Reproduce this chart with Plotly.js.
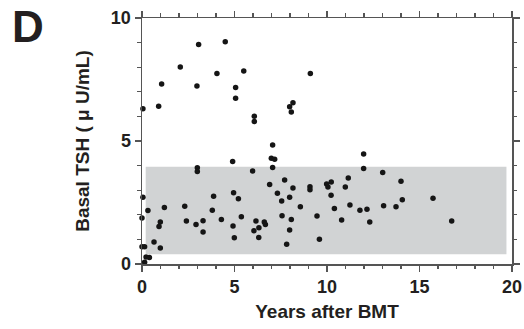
<!DOCTYPE html>
<html><head><meta charset="utf-8">
<script src="https://cdn.plot.ly/plotly-3.0.1.min.js"></script>
<style>html,body{margin:0;padding:0;background:#fff}#chart{width:524px;height:329px}</style>
</head><body><div id="chart"></div>
<script>
// Years after BMT
const years = [0.05,3.06,4.50,2.07,4.05,5.50,9.10,2.97,1.06,5.06,5.06,0.90,7.98,8.16,8.07,6.07,6.07,7.06,6.99,7.17,7.06,4.90,2.99,2.99,5.98,11.98,11.98,13.01,11.15,14.00,10.23,9.98,10.05,9.08,9.08,10.99,7.71,6.90,8.16,4.95,7.32,10.22,3.87,0.05,5.21,15.73,14.07,7.98,7.55,11.24,13.06,13.73,8.56,2.31,1.21,10.40,12.16,11.78,0.32,3.80,0.00,5.37,7.57,9.46,4.29,8.07,10.79,2.40,3.30,6.16,6.61,0.99,6.67,12.31,16.74,2.92,0.92,4.92,6.32,6.05,7.98,3.30,4.99,6.31,9.59,0.65,7.82,0.00,0.14,0.99,0.22,0.40,0.14];
// Basal TSH (µU/mL)
const tsh = [6.31,8.92,9.03,8.01,7.74,7.85,7.74,7.24,7.32,7.17,6.74,6.41,6.39,6.55,6.18,6.01,5.79,4.84,4.30,4.26,3.92,4.17,3.91,3.76,3.78,4.47,3.88,3.72,3.50,3.36,3.33,3.25,3.13,3.14,3.02,3.13,3.41,3.23,3.09,2.90,2.88,2.79,2.75,2.71,2.65,2.67,2.61,2.71,2.56,2.40,2.37,2.33,2.33,2.35,2.30,2.26,2.23,2.18,2.17,2.18,1.87,1.92,1.96,1.95,1.81,1.81,1.79,1.75,1.76,1.75,1.71,1.71,1.61,1.71,1.75,1.61,1.52,1.54,1.47,1.35,1.38,1.30,1.07,1.08,1.01,0.89,0.80,0.70,0.70,0.65,0.28,0.26,0.07];
// Normal reference range band
const normalX = [0.2, 19.7];
const normalY = [0.4, 3.95];

const txt = '#231f20';
const axc = '#555555';
const font = 'Liberation Sans, Arial, sans-serif';

const axisCommon = {
  showline: true, linecolor: axc, linewidth: 1.5,
  mirror: 'allticks', ticks: 'outside', ticklen: 6, tickwidth: 1.5, tickcolor: axc,
  showgrid: false, zeroline: false, dtick: 5, tick0: 0,
  minor: {ticks: 'outside', dtick: 1, ticklen: 3.5, tickwidth: 1.2, tickcolor: axc, showgrid: false},
  tickfont: {family: font, size: 18, color: txt, weight: 'bold'}
};

const data = [{
  type: 'scatter', mode: 'markers', x: years, y: tsh, cliponaxis: false,
  marker: {size: 5.5, color: '#151515'}, hoverinfo: 'skip'
}];

const layout = {
  width: 524, height: 329,
  margin: {l: 142, r: 12, t: 18, b: 65},
  paper_bgcolor: '#fff', plot_bgcolor: '#fff',
  showlegend: false,
  xaxis: Object.assign({}, axisCommon, {range: [0, 20],
    title: {text: 'Years after BMT', font: {family: font, size: 19, color: txt, weight: 'bold'}, standoff: 8}}),
  yaxis: Object.assign({}, axisCommon, {range: [0, 10],
    title: {text: 'Basal TSH ( μ U/mL)', font: {family: font, size: 19, color: txt, weight: 'bold'}, standoff: 16}}),
  shapes: [{type: 'rect', xref: 'x', yref: 'y', x0: normalX[0], x1: normalX[1], y0: normalY[0], y1: normalY[1],
    fillcolor: '#d1d3d4', line: {width: 0}, layer: 'below'}],
  annotations: [{text: 'D', xref: 'paper', yref: 'paper', x: -0.357, y: 1.075, xanchor: 'left', yanchor: 'top',
    showarrow: false, font: {family: font, size: 44, color: txt, weight: 'bold'}}]
};

Plotly.newPlot('chart', data, layout, {displayModeBar: false, staticPlot: true});
</script></body></html>
